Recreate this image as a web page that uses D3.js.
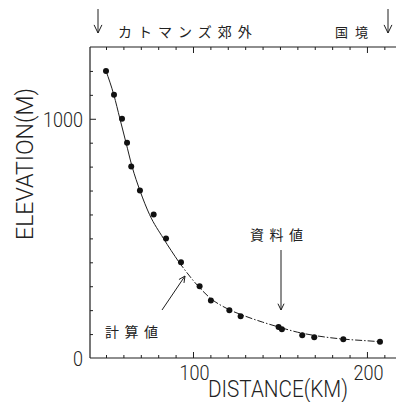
<!DOCTYPE html>
<html>
<head>
<meta charset="utf-8">
<script src="https://cdn.jsdelivr.net/npm/d3@7"></script>
<style>
  html, body { margin: 0; padding: 0; background: #fff; }
  svg { display: block; }
  .cjk { font-family: "Noto Sans CJK JP", sans-serif; fill: #222; }
  .lat { font-family: Roboto, "Liberation Sans", sans-serif; font-weight: 300; fill: #222; }
</style>
</head>
<body>
<svg id="chart" width="396" height="402"></svg>
<script>
// Observed elevations along the route (km from origin, metres)
const obsDistance = [50, 54.6, 59.2, 62.1, 64.5, 69.5, 77.4, 84.5, 93.1, 103.8, 110.3, 120.9, 127.4, 149.2, 151.1, 162.8, 169.7, 186.4, 207.5];
const obsElevation = [1200, 1100, 1000, 900, 800, 700, 600, 500, 400, 300, 240, 200, 175, 130, 120, 95, 87, 78, 68];

// Calculated profile
const calcDistance = [50, 54.5, 58, 61.5, 65, 69.5, 75, 83, 92, 103, 110, 120, 130, 140, 150, 160, 170, 185, 200, 208];
const calcElevation = [1200, 1100, 1000, 900, 800, 700, 600, 500, 400, 300, 250, 205, 175, 150, 128, 108, 94, 80, 72, 68];

const xTickLabels = [100, 200];
const yTickLabels = [0, 1000];

const svg = d3.select("#chart");
const ink = "#1e1e1e";

const x = d3.scaleLinear().domain([40.8, 216.7]).range([90, 396]);
const y = d3.scaleLinear().domain([0, 1300]).range([358, 47]);

// Frame lines: left, bottom, top
svg.append("line").attr("x1", 90).attr("x2", 90).attr("y1", 47).attr("y2", 358)
  .attr("stroke", ink).attr("stroke-width", 1.2);
svg.append("line").attr("x1", 90).attr("x2", 396).attr("y1", 358).attr("y2", 358)
  .attr("stroke", ink).attr("stroke-width", 1.2);
svg.append("line").attr("x1", 90).attr("x2", 396).attr("y1", 47).attr("y2", 47)
  .attr("stroke", ink).attr("stroke-width", 1.2);

// Inward ticks
const xMinor = d3.range(50, 216, 10);
const yMinor = d3.range(100, 1300, 100);

const gB = svg.append("g").attr("transform", "translate(0,358)")
  .call(d3.axisTop(x).tickValues(xMinor).tickSize(0).tickFormat(""));
gB.select(".domain").remove();
gB.selectAll(".tick line").attr("y2", d => xTickLabels.includes(d) ? -6 : -3).attr("stroke", ink);

const gT = svg.append("g").attr("transform", "translate(0,47)")
  .call(d3.axisBottom(x).tickValues(xMinor).tickSize(0).tickFormat(""));
gT.select(".domain").remove();
gT.selectAll(".tick line").attr("y2", d => xTickLabels.includes(d) ? 6 : 3).attr("stroke", ink);

const gL = svg.append("g").attr("transform", "translate(90,0)")
  .call(d3.axisRight(y).tickValues(yMinor).tickSize(0).tickFormat(""));
gL.select(".domain").remove();
gL.selectAll(".tick line").attr("x2", d => yTickLabels.includes(d) ? 6 : 3).attr("stroke", ink);

// Tick labels
svg.selectAll(".xlab").data(xTickLabels).join("text")
  .attr("class", "lat")
  .attr("x", d => x(d) + 1.5).attr("y", 380)
  .attr("text-anchor", "middle")
  .attr("font-size", 21)
  .attr("textLength", 30).attr("lengthAdjust", "spacingAndGlyphs")
  .text(d => d);

svg.selectAll(".ylab").data(yTickLabels).join("text")
  .attr("class", "lat")
  .attr("x", 83).attr("y", d => y(d) + 8)
  .attr("text-anchor", "end")
  .attr("font-size", 21)
  .attr("textLength", d => String(d).length * 10)
  .attr("lengthAdjust", "spacingAndGlyphs")
  .text(d => d);

// Axis titles
svg.append("text").attr("class", "lat")
  .attr("x", 208).attr("y", 397)
  .attr("font-size", 23)
  .attr("textLength", 140).attr("lengthAdjust", "spacingAndGlyphs")
  .text("DISTANCE(KM)");

svg.append("text").attr("class", "lat")
  .attr("transform", "translate(33,240) rotate(-90)")
  .attr("font-size", 24)
  .attr("textLength", 152).attr("lengthAdjust", "spacingAndGlyphs")
  .text("ELEVATION(M)");

// Calculated curve: solid upper part, dash-dot lower part
const line = d3.line().x(d => x(d[0])).y(d => y(d[1])).curve(d3.curveMonotoneX);
const calc = calcDistance.map((d, i) => [d, calcElevation[i]]);
const split = calcDistance.indexOf(92);
svg.append("path").attr("d", line(calc.slice(0, split + 1)))
  .attr("fill", "none").attr("stroke", ink).attr("stroke-width", 1);
svg.append("path").attr("d", line(calc.slice(split)))
  .attr("fill", "none").attr("stroke", ink).attr("stroke-width", 1)
  .attr("stroke-dasharray", "7,2,1.5,2");

// Observed points
svg.selectAll(".obs").data(obsDistance).join("circle")
  .attr("cx", d => x(d))
  .attr("cy", (d, i) => y(obsElevation[i]))
  .attr("r", 3).attr("fill", "#111");

// Arrow helper: open V head at (x2,y2)
function arrow(x1, y1, x2, y2, head) {
  svg.append("line").attr("x1", x1).attr("y1", y1).attr("x2", x2).attr("y2", y2)
    .attr("stroke", ink).attr("stroke-width", 1);
  const a = Math.atan2(y2 - y1, x2 - x1);
  const s = 0.45;
  [a + Math.PI - s, a + Math.PI + s].forEach(b => {
    svg.append("line").attr("x1", x2).attr("y1", y2)
      .attr("x2", x2 + head * Math.cos(b)).attr("y2", y2 + head * Math.sin(b))
      .attr("stroke", ink).attr("stroke-width", 1);
  });
}

// Top annotations
arrow(98, 9, 98, 33, 9);
arrow(388, 9, 388, 33, 9);
svg.append("text").attr("class", "cjk")
  .attr("x", 118).attr("y", 37).attr("font-size", 14).attr("letter-spacing", 6)
  .text("カトマンズ郊外");
svg.append("text").attr("class", "cjk")
  .attr("x", 335).attr("y", 37).attr("font-size", 13).attr("letter-spacing", 7)
  .text("国境");

// In-plot annotations
svg.append("text").attr("class", "cjk")
  .attr("x", 250).attr("y", 240).attr("font-size", 14).attr("letter-spacing", 5.5)
  .text("資料値");
arrow(281, 250, 281, 310, 7);

svg.append("text").attr("class", "cjk")
  .attr("x", 105).attr("y", 337).attr("font-size", 14).attr("letter-spacing", 5.5)
  .text("計算値");
arrow(162, 310, 185, 276, 7);
</script>
</body>
</html>
